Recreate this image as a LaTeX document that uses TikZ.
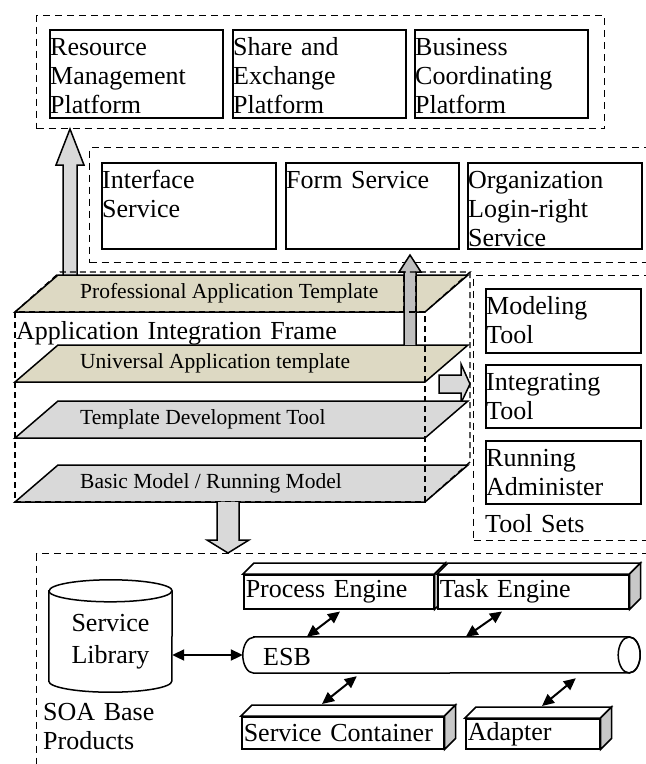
\documentclass[tikz,border=0pt]{standalone}
\usepackage{fontspec}
\setmainfont{Liberation Serif}
\usetikzlibrary{shapes.geometric,arrows.meta,positioning,calc}

\definecolor{layertan}{HTML}{DDD9C3}
\definecolor{layergray}{HTML}{D9D9D9}
\definecolor{arrowgray}{HTML}{BFBFBF}
\definecolor{sidegray}{HTML}{C8C8C8}

\begin{document}
\begin{tikzpicture}[
        x=1pt, y=-1pt,
        frame/.style={draw, line width=1.3pt, dash pattern=on 7pt off 5pt, anchor=north west, inner sep=0},
        box/.style={draw, line width=1.6pt, anchor=north west, inner sep=0},
        boxtext/.style={anchor=base west, inner sep=0, text width=175, align=left, font=\fontsize{26}{29}\selectfont},
        laytext/.style={anchor=west, inner sep=0, font=\fontsize{21.5}{24}\selectfont},
        layer/.style={draw, line width=1.5pt},
        cuboid/.style={line width=1.3pt, dash pattern=on 6pt off 4pt},
        blockarrow/.style={draw, line width=1.5pt, fill=layergray},
        cube/.style={draw, fill=white, line width=1.5pt, anchor=north west, inner xsep=2pt, inner ysep=0, align=left, font=\fontsize{26}{29}\selectfont},
        body/.style={inner sep=0},
        link/.style={{Triangle[length=12pt,width=11pt]}-{Triangle[length=12pt,width=11pt]}, line width=2pt}
    ]
    \useasboundingbox (0,0) rectangle (646,764);

    % dashed groups
    \node[frame, minimum width=568, minimum height=113] (topf) at (36,15) {};
    \node[frame, minimum width=571, minimum height=115] (svcf) at (89,147) {};
    \node[frame, minimum width=190, minimum height=265] (toolf) at (473,275) {};
    \node[frame, minimum width=624, minimum height=240] (soaf) at (36,553) {};

    % platform, service and tool boxes
    \foreach \nm/\xx/\yy/\ww/\hh/\txt in {
        res/49/29/173/88/Resource\\Management\\Platform,
        share/232/29/173/88/Share and\\Exchange\\Platform,
        bus/414/29/173/88/Business\\Coordinating\\Platform,
        intf/101/162/174/86/Interface\\Service,
        form/285/162/173/86/Form Service,
        org/467/162/174/86/Organization\\Login-right\\Service,
        model/485/288/155/64/Modeling\\Tool,
        integ/485/364/155/63/Integrating\\Tool,
        run/485/440/155/63/Running\\Administer}{
        \node[box, minimum width=\ww, minimum height=\hh] (\nm) at (\xx,\yy) {};
        \node[boxtext] (\nm txt) at ($(\nm.north west)+(1,26)$) {\txt};
    }
    \node[boxtext] (toolstxt) at (485,532) {Tool Sets};

    % arrows behind the layers
    \draw[blockarrow] (63,275) -- (63,165) -- (56,165) -- (70,129) -- (84,165) -- (77,165) -- (77,275);
    \draw[blockarrow] (439,375) -- (461,375) -- (461,364) -- (470,384) -- (461,403) -- (461,393) -- (439,393) -- cycle;

    % layers of the frame
    \foreach \bb/\col/\txt/\nm in {
        312/layertan/Professional Application Template/pro,
        382/layertan/Universal Application template/uni,
        438/layergray/Template Development Tool/tdt,
        502/layergray/Basic Model {/} Running Model/bmr}{
        \draw[layer, fill=\col] (15,\bb) -- (58,\bb-37) -- (468,\bb-37) -- (425,\bb) -- cycle;
        \node[laytext] (\nm) at (80,\bb-18.5) {\txt};
    }
    \node[boxtext, text width=340] (aif) at (16,339) {Application Integration Frame};

    % up arrow through the professional layer
    \draw[blockarrow, fill=arrowgray] (404,345) -- (404,272) -- (399,272) -- (410,255) -- (421,272) -- (416,272) -- (416,345);
    \fill[arrowgray] (404.8,275.8) rectangle (415.2,311.2);
    \draw[cuboid] (404,276) -- (404,312) (416,276) -- (416,312);

    % dashed frame box
    \draw[cuboid] (15,312) rectangle (425,502);
    \draw[cuboid] (15,312) -- (60,272) -- (470,272) -- (425,312);
    \draw[cuboid] (470,272) -- (470,462) -- (425,502);

    \draw[blockarrow] (217,502) -- (217,540) -- (207,540) -- (228,553) -- (249,540) -- (239,540) -- (239,502);

    % SOA base products
    \node[body, minimum width=123, minimum height=112] (lib) at (110.5,636) {};
    \draw[line width=1.5pt, fill=white] ($(lib.north west)+(0,11)$) -- ($(lib.south west)+(0,-11)$)
        arc[start angle=180, end angle=360, x radius=61.5pt, y radius=11pt] -- ($(lib.north east)+(0,11)$)
        arc[start angle=0, end angle=180, x radius=61.5pt, y radius=11pt] -- cycle;
    \draw[line width=1.5pt] ($(lib.north west)+(0,11)$) arc[start angle=180, end angle=360, x radius=61.5pt, y radius=11pt];
    \node[align=center, font=\fontsize{26}{32}\selectfont] (libtxt) at (110.5,642) {Service\\Library};

    \node[body, minimum width=397, minimum height=36] (esb) at (441.5,655) {};
    \draw[line width=1.5pt, fill=white] ($(esb.north west)+(11,0)$) -- ($(esb.north east)+(-11,0)$)
        arc[start angle=90, end angle=-90, x radius=11pt, y radius=18pt] -- ($(esb.south west)+(11,0)$)
        arc[start angle=270, end angle=90, x radius=11pt, y radius=18pt] -- cycle;
    \draw[line width=1.5pt] ($(esb.east)+(-11,0)$) ellipse[x radius=11pt, y radius=18pt];
    \node[boxtext, text width=80] (esbtxt) at (263,665) {ESB};

    \foreach \nm/\xx/\yy/\ww/\hh/\txt in {
        proc/243/574/190/34/Process Engine,
        task/437/574/191/34/Task Engine,
        cont/241/716/202/32/Service Container,
        adap/465/718/134/30/Adapter}{
        \node[cube, minimum height=\hh, text width=\ww-4] (\nm) at (\xx,\yy) {\txt};
        \draw[line width=1.5pt, fill=white] (\nm.north west) -- ++(11,-11) -- ($(\nm.north east)+(11,-11)$) -- (\nm.north east) -- cycle;
        \draw[line width=1.5pt, fill=sidegray] (\nm.north east) -- ++(11,-11) -- ($(\nm.south east)+(11,-11)$) -- (\nm.south east) -- cycle;
    }

    \draw[link] (esb.west -| lib.east) -- (esb.west);
    \draw[link] ([xshift=97pt,yshift=-2pt]proc.south west) -- ([xshift=64pt]esb.north west);
    \draw[link] ([xshift=65pt,yshift=-2pt]task.south west) -- ([xshift=223pt]esb.north west);
    \draw[link] ([xshift=114pt,yshift=-3pt]esb.south west) -- ([xshift=81pt,yshift=12pt]cont.north west);
    \draw[link] ([xshift=333pt,yshift=-5pt]esb.south west) -- ([xshift=77pt,yshift=12pt]adap.north west);

    \node[boxtext] (soatxt) at (43,720) {SOA Base\\Products};
\end{tikzpicture}
\end{document}
